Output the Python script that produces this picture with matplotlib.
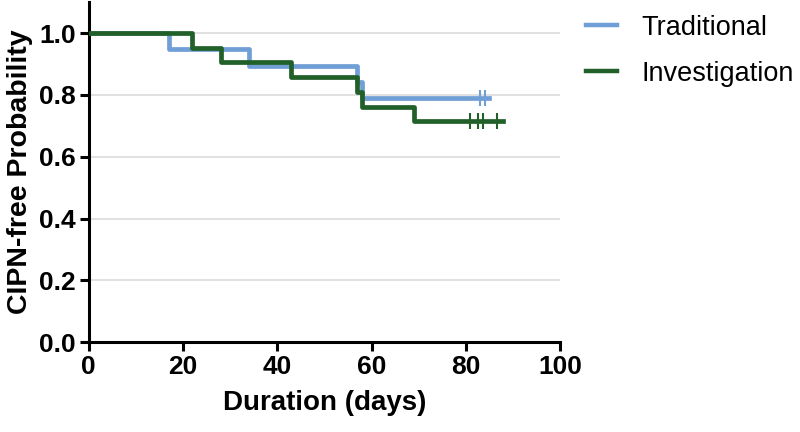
import matplotlib.pyplot as plt

# Kaplan-Meier step data
trad_days = [0, 17, 34, 57, 58, 85]
trad_prob = [1.0, 0.947, 0.895, 0.842, 0.789, 0.789]
trad_censor_days = [83, 84]
trad_censor_prob = [0.789, 0.789]

inv_days = [0, 22, 28, 43, 57, 58, 69, 88]
inv_prob = [1.0, 0.952, 0.905, 0.857, 0.810, 0.762, 0.714, 0.714]
inv_censor_days = [81, 82.6, 83.7, 86.6]
inv_censor_prob = [0.714, 0.714, 0.714, 0.714]

xticks = [0, 20, 40, 60, 80, 100]
yticks = [0.0, 0.2, 0.4, 0.6, 0.8, 1.0]

blue = '#6f9fd6'
green = '#22602a'

plt.rcParams['font.family'] = ['Liberation Sans', 'DejaVu Sans']

fig, ax = plt.subplots(figsize=(8, 4.32), dpi=100)
fig.subplots_adjust(left=0.111, right=0.70, bottom=0.208, top=0.995)

for y in yticks[1:]:
    ax.axhline(y, color='#dcdcdc', lw=1.2, zorder=0)

ax.step(trad_days, trad_prob, where='post', color=blue, lw=3.4, label='Traditional', zorder=2)
ax.plot(trad_censor_days, trad_censor_prob, ls='none', marker='|', ms=11, mew=1.5, color=blue, zorder=2)
ax.step(inv_days, inv_prob, where='post', color=green, lw=3.4, label='Investigation', zorder=3)
ax.plot(inv_censor_days, inv_censor_prob, ls='none', marker='|', ms=11, mew=1.5, color=green, zorder=3)

ax.set_xlim(0, 100)
ax.set_ylim(0, 1.1)
ax.set_xticks(xticks)
ax.set_yticks(yticks)
ax.set_yticklabels([f'{v:.1f}' for v in yticks])

for s in ['top', 'right']:
    ax.spines[s].set_visible(False)
for s in ['left', 'bottom']:
    ax.spines[s].set_linewidth(2.2)
ax.tick_params(width=2.2, length=6.5, labelsize=19, pad=3)
for lab in ax.get_xticklabels() + ax.get_yticklabels():
    lab.set_fontweight('bold')

ax.set_xlabel('Duration (days)', fontsize=20, fontweight='bold', labelpad=8)
ax.set_ylabel('CIPN-free Probability', fontsize=20.5, fontweight='bold', labelpad=4)

leg = ax.legend(loc='upper left', bbox_to_anchor=(1.003, 1.035), frameon=False,
                fontsize=19.5, handlelength=1.15, handletextpad=0.9, labelspacing=0.75)
for h in leg.get_lines():
    h.set_linewidth(3.2)

fig.savefig('out.png', dpi=100)
